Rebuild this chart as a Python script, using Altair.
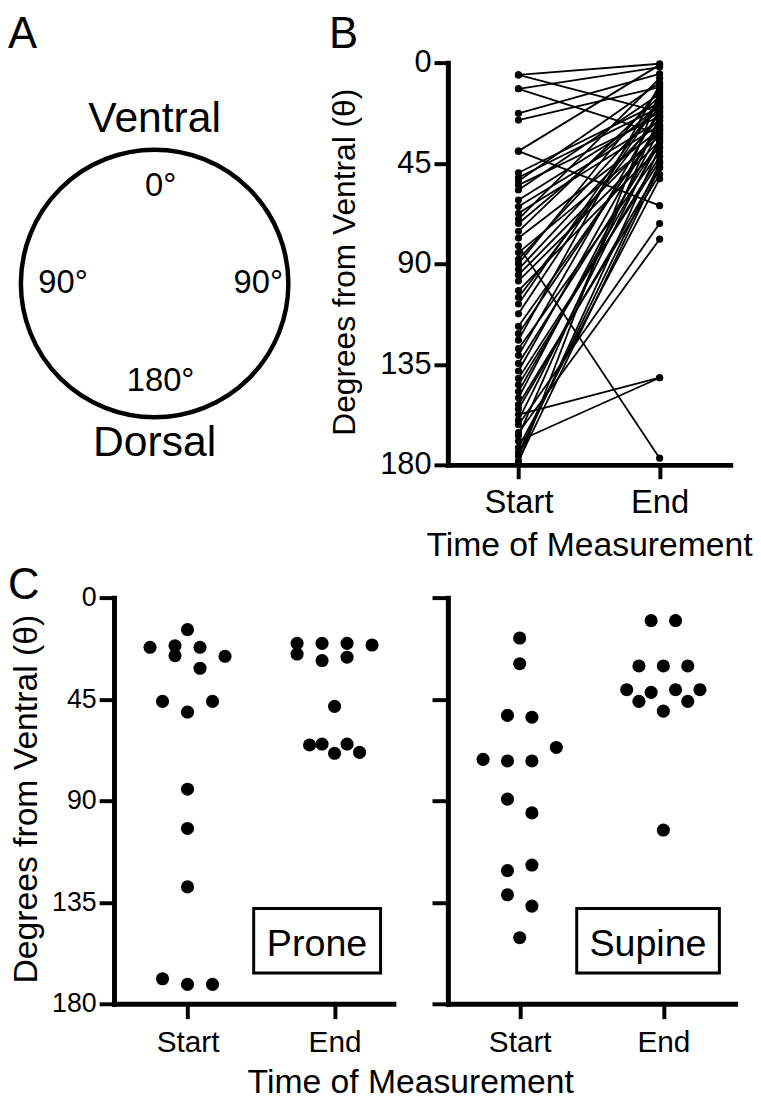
import altair as alt
import pandas as pd

FONT = "Liberation Sans"

# ---------------- Panel A (schematic) ----------------
a_outer_labels = ["Ventral", "Dorsal"]
a_outer_angles = [0, 180]
a_inner_labels = ["0°", "90°", "90°", "180°"]
a_inner_angles = [0, 270, 90, 180]

# ---------------- Panel B (paired start/end) ----------------
b_start = [5.5, 5.5, 11.7, 11.7, 22.7, 25.7, 39.6, 39.6, 49.3, 51.4, 53, 54.8, 57,
           61.5, 64.4, 67.4, 70, 72, 75.5, 78.5, 82, 85, 88, 90, 92.5, 95, 97.7, 102,
           105, 108, 112.4, 118, 121.3, 124.2, 128, 131, 134.6, 138, 141.3, 144.2,
           147.2, 150, 153, 155, 157.5, 160, 162, 165.6, 167, 169.3, 172.3, 174.5,
           176, 178.2, 179]
b_end = [0.5, 22, 2, 32, 5, 11, 1, 64, 18, 20, 9, 24, 14,
         22, 26, 28, 7, 19, 15, 30, 177, 33, 20, 12, 25, 31, 35, 38,
         23, 16, 17, 29, 28, 10, 40, 21, 35, 26, 44, 42,
         36, 30, 50, 47, 141, 34, 72, 79, 24, 141, 52, 45,
         38, 47, 13]

# ---------------- Panel C (dot plots) ----------------
prone_start = [14.2, 22, 21.3, 25.7, 22, 26, 31.3, 46, 46, 50.7, 84.9, 102.3, 128.2, 168.9, 171.4, 171.4]
prone_start_slot = [0, -3, -1, -1, 1, 3, 1, -2, 2, 0, 0, 0, 0, -2, 0, 2]
prone_end = [20.3, 25, 20.3, 27.9, 20.3, 26.4, 21, 48.2, 65.3, 64.9, 69, 64.9, 68.6]
prone_end_slot = [-3, -3, -1, -1, 1, 1, 3, 0, -2, -1, 0, 1, 2]

supine_start = [17.9, 29.3, 52.2, 53, 66.4, 71.7, 72.4, 72.4, 89.3, 95.4, 121, 118.5, 131.7, 136.7, 150.7]
supine_start_slot = [0, 0, -1, 1, 3, -3, -1, 1, -1, 1, -1, 1, -1, 1, 0]
supine_end = [10.2, 10.2, 30.3, 30.3, 30.3, 40.8, 42, 40.8, 40.8, 46, 46, 50.3, 103]
supine_end_slot = [-1, 1, -2, 0, 2, -3, -1, 1, 3, -2, 2, 0, 0]

label_expr = "datum.value == 1 ? 'Start' : 'End'"
SLOT_STEP = 0.085

# ====================== Panel A ======================
A_W, A_H = 291, 406
xA = alt.X("x:Q", scale=alt.Scale(domain=[-0.3037, 1.852], nice=False, zero=False), axis=None)
yA = alt.Y("y:Q", scale=alt.Scale(domain=[-1.356, 1.652], nice=False, zero=False), axis=None)

circle = alt.Chart(pd.DataFrame({"x": [0.0], "y": [0.0]})).mark_point(
    shape="circle", filled=False, size=72900, color="black", strokeWidth=4.5, opacity=1
).encode(x=xA, y=yA)

outer = alt.Chart(pd.DataFrame({"label": a_outer_labels, "angle": a_outer_angles})).transform_calculate(
    x="1.21*sin(datum.angle*PI/180)", y="1.21*cos(datum.angle*PI/180) + 0.02"
).mark_text(font=FONT, fontSize=43, baseline="middle", align="center", color="black").encode(
    x=xA, y=yA, text="label:N")

inner = alt.Chart(pd.DataFrame({"label": a_inner_labels, "angle": a_inner_angles})).transform_calculate(
    x="0.73*sin(datum.angle*PI/180) + 0.045", y="0.73*cos(datum.angle*PI/180)"
).mark_text(font=FONT, fontSize=33, baseline="middle", align="center", color="black").encode(
    x=xA, y=yA, text="label:N")

letterA = alt.Chart(pd.DataFrame({"t": ["A"]})).mark_text(
    font=FONT, fontSize=44, baseline="top", align="left", color="black"
).encode(x=alt.value(-107), y=alt.value(-50), text="t:N")

panelA = alt.layer(circle, outer, inner, letterA).properties(width=A_W, height=A_H)

# ====================== Panel B ======================
B_W, B_H = 285, 406
rows = []
for i, (s, e) in enumerate(zip(b_start, b_end)):
    rows.append({"subject": i, "time": 1, "angle": s})
    rows.append({"subject": i, "time": 2, "angle": e})
df_b = pd.DataFrame(rows)


def y_axis(label_size, title, title_size, title_x, title_y, tick_size, labels=True):
    kw = dict(values=[0, 45, 90, 135, 180], grid=False, domainColor="black", domainWidth=5,
              domainCap="square", tickColor="black", tickWidth=4, tickSize=tick_size,
              labelFont=FONT, labelFontSize=label_size, labelColor="black", labelPadding=3,
              labelOverlap=False, labelFlush=False, labels=labels)
    if title is not None:
        kw.update(title=title, titleFont=FONT, titleFontSize=title_size, titleFontWeight="normal",
                  titleColor="black", titleX=title_x, titleY=title_y, titleBaseline="middle",
                  titleAngle=270)
    else:
        kw.update(title=None)
    return alt.Axis(**kw)


def x_axis(label_size, label_pad, title, title_size, title_x, title_y, tick_size):
    kw = dict(values=[1, 2], labelExpr=label_expr, grid=False, domainColor="black", domainWidth=5,
              domainCap="square", tickColor="black", tickWidth=4, tickSize=tick_size,
              labelFont=FONT, labelFontSize=label_size, labelColor="black", labelPadding=label_pad,
              labelOverlap=False, labelFlush=False, labelAngle=0)
    if title is not None:
        kw.update(title=title, titleFont=FONT, titleFontSize=title_size, titleFontWeight="normal",
                  titleColor="black", titleX=title_x, titleY=title_y, titleBaseline="alphabetic",
                  titleAlign="center")
    else:
        kw.update(title=None)
    return alt.Axis(**kw)


xB = alt.X("time:Q", scale=alt.Scale(domain=[0.5, 2.5], nice=False, zero=False),
           axis=x_axis(33, 8, "Time of Measurement", 34, B_W / 2, 91, 14))
yB = alt.Y("angle:Q", scale=alt.Scale(domain=[0, 180], reverse=True, nice=False, zero=False),
           axis=y_axis(31, "Degrees from Ventral (θ)", 32, -104, 201, 14))

b_lines = alt.Chart(df_b).mark_line(color="black", strokeWidth=1.8).encode(
    x=xB, y=yB, detail="subject:N")
b_pts = alt.Chart(df_b).mark_circle(color="black", size=52, opacity=1).encode(x=xB, y=yB)
letterB = alt.Chart(pd.DataFrame({"t": ["B"]})).mark_text(
    font=FONT, fontSize=44, baseline="top", align="left", color="black"
).encode(x=alt.value(-120), y=alt.value(-50), text="t:N")

panelB = alt.layer(b_lines, b_pts, letterB).properties(width=B_W, height=B_H)

# ====================== Panel C ======================
C_H = 410
P_W, S_W = 282, 290


def dots_df(start, start_slot, end, end_slot):
    d1 = pd.DataFrame({"time": 1, "angle": start, "slot": start_slot})
    d2 = pd.DataFrame({"time": 2, "angle": end, "slot": end_slot})
    return pd.concat([d1, d2], ignore_index=True)


df_p = dots_df(prone_start, prone_start_slot, prone_end, prone_end_slot)
df_s = dots_df(supine_start, supine_start_slot, supine_end, supine_end_slot)

yP = alt.Y("angle:Q", scale=alt.Scale(domain=[0, 180], reverse=True, nice=False, zero=False),
           axis=y_axis(27, "Degrees from Ventral (θ)", 34, -88, 203, 15))
xP = alt.X("xpos:Q", scale=alt.Scale(domain=[0.5, 2.4], nice=False, zero=False),
           axis=x_axis(30, 9, "Time of Measurement", 34, 299, 90, 15))
yS = alt.Y("angle:Q", scale=alt.Scale(domain=[0, 180], reverse=True, nice=False, zero=False),
           axis=y_axis(27, None, 0, 0, 0, 16, labels=False))
xS = alt.X("xpos:Q", scale=alt.Scale(domain=[0.5, 2.5], nice=False, zero=False),
           axis=x_axis(30, 9, None, 0, 0, 0, 15))

p_dots = alt.Chart(df_p).transform_calculate(
    xpos=f"datum.time + datum.slot*{SLOT_STEP}"
).mark_circle(color="black", size=175, opacity=1).encode(x=xP, y=yP)

s_dots = alt.Chart(df_s).transform_calculate(
    xpos=f"datum.time + datum.slot*{SLOT_STEP}"
).mark_circle(color="black", size=175, opacity=1).encode(x=xS, y=yS)

p_box = alt.Chart(pd.DataFrame({"xpos": [1.45], "x2": [2.313], "angle": [137.8], "y2": [166.4]})).mark_rect(
    fill="white", stroke="black", strokeWidth=3).encode(x=xP, x2="x2:Q", y=yP, y2="y2:Q")
p_txt = alt.Chart(pd.DataFrame({"xpos": [1.881], "angle": [159.0], "t": ["Prone"]})).mark_text(
    font=FONT, fontSize=38, baseline="alphabetic", align="center", color="black").encode(
    x=xP, y=yP, text="t:N")

s_box = alt.Chart(pd.DataFrame({"xpos": [1.397], "x2": [2.39], "angle": [137.8], "y2": [166.4]})).mark_rect(
    fill="white", stroke="black", strokeWidth=3).encode(x=xS, x2="x2:Q", y=yS, y2="y2:Q")
s_txt = alt.Chart(pd.DataFrame({"xpos": [1.893], "angle": [159.0], "t": ["Supine"]})).mark_text(
    font=FONT, fontSize=38, baseline="alphabetic", align="center", color="black").encode(
    x=xS, y=yS, text="t:N")

letterC = alt.Chart(pd.DataFrame({"t": ["C"]})).mark_text(
    font=FONT, fontSize=44, baseline="top", align="left", color="black"
).encode(x=alt.value(-107), y=alt.value(-34), text="t:N")

panelP = alt.layer(p_dots, p_box, p_txt, letterC).properties(width=P_W, height=C_H)
panelS = alt.layer(s_dots, s_box, s_txt).properties(width=S_W, height=C_H)

chart = alt.concat(
    panelA, panelB, panelP, panelS,
    columns=2,
    spacing={"row": 134, "column": 46},
    align={"row": "each", "column": "none"},
    bounds="flush",
    padding=0,
    background="white",
).configure_view(stroke=None, strokeWidth=0)

chart.save("out.html", embed_options={"renderer": "svg", "actions": False})
